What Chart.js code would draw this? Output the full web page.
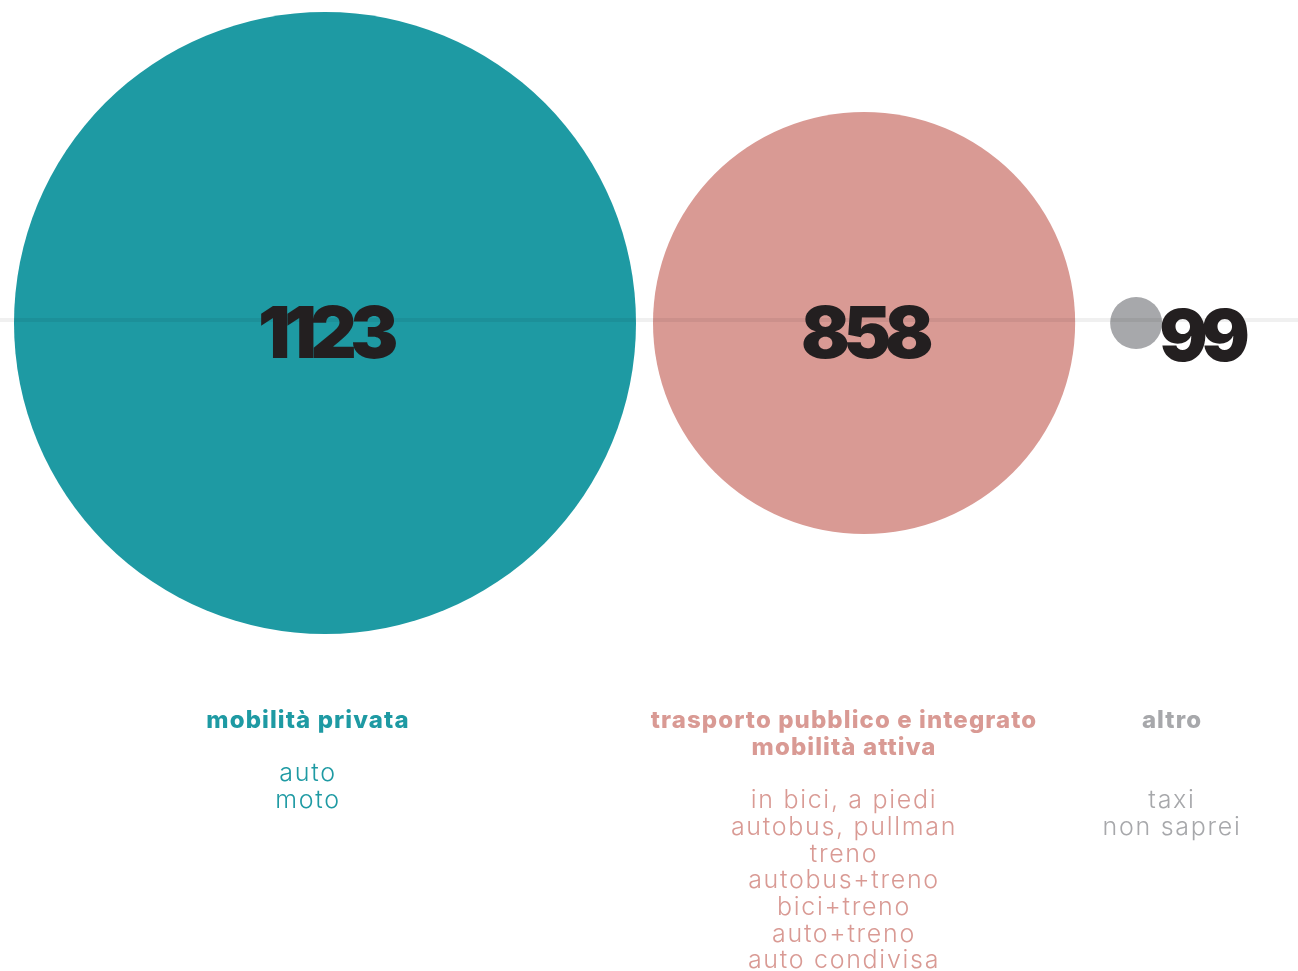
<!DOCTYPE html>
<html>
<head>
<meta charset="utf-8">
<script src="https://cdn.jsdelivr.net/npm/chart.js@4/dist/chart.umd.min.js"></script>
<style>
  html, body { margin: 0; padding: 0; background: #fff; }
  #wrap { width: 1298px; height: 971px; position: relative; }
</style>
</head>
<body>
<div id="wrap"><canvas id="bubbles" width="1298" height="971"></canvas></div>
<script>
// dati
var categories = ['mobilità privata', 'trasporto pubblico e integrato\nmobilità attiva', 'altro'];
var totals = [1123, 858, 99];
var modes = [
  ['auto', 'moto'],
  ['in bici, a piedi', 'autobus, pullman', 'treno', 'autobus+treno', 'bici+treno', 'auto+treno', 'auto condivisa'],
  ['taxi', 'non saprei']
];

// stile
var colors = ['#1e9aa3', '#d99a94', '#a7a8ab'];
var textCenters = [308, 844, 1172];   // colonne delle etichette
var itemRow = [2, 3, 3];              // riga dove iniziano le voci
var gaps = [17, 35];
var maxR = 311, minR = 26;

var radiusFor = function(v) {
  var maxV = Math.max.apply(null, totals);
  return Math.max(minR, maxR * Math.pow(v / maxV, 1.44));
};

// posizione dei cerchi affiancati
var points = [];
var cursor = 14;
totals.forEach(function(v, i) {
  var r = radiusFor(v);
  points.push({ x: cursor + r, y: 0, r: r });
  cursor += 2 * r + (gaps[i] || 0);
});

// linea orizzontale + numeri + etichette
var labelsPlugin = {
  id: 'labels',
  afterDatasetsDraw: function(chart) {
    var ctx = chart.ctx,
        meta = chart.getDatasetMeta(0),
        yZero = chart.scales.y.getPixelForValue(0);
    ctx.save();
    ctx.fillStyle = 'rgba(0,0,0,0.06)';
    ctx.fillRect(0, yZero - 5, chart.width, 4);

    ctx.fillStyle = '#231f20';
    ctx.font = '900 72px Inter';
    ctx.letterSpacing = '-6.5px';
    ctx.textBaseline = 'alphabetic';
    meta.data.forEach(function(el, i) {
      var txt = String(totals[i]);
      if (i === totals.length - 1) {
        ctx.textAlign = 'left';
        ctx.fillText(txt, el.x + radiusFor(totals[i]) - 3, yZero + 38);
      } else {
        ctx.textAlign = 'center';
        ctx.fillText(txt, el.x, yZero + 35);
      }
    });

    ctx.textAlign = 'center';
    var lh = 26.7, top = 728;
    categories.forEach(function(cat, i) {
      ctx.fillStyle = colors[i];
      ctx.font = '800 24px Inter';
      ctx.letterSpacing = '1.1px';
      cat.split('\n').forEach(function(line, j) {
        ctx.fillText(line, textCenters[i], top + j * lh);
      });
      ctx.font = '300 25px Inter';
      ctx.letterSpacing = '1.7px';
      modes[i].forEach(function(m, j) {
        ctx.fillText(m, textCenters[i], top + (itemRow[i] + j) * lh);
      });
    });
    ctx.restore();
  }
};

var chart = new Chart(document.getElementById('bubbles').getContext('2d'), {
  type: 'bubble',
  data: {
    labels: categories,
    datasets: [{
      data: points,
      backgroundColor: colors,
      borderWidth: 0,
      hoverBorderWidth: 0,
      clip: false
    }]
  },
  options: {
    responsive: false,
    animation: false,
    events: [],
    layout: { padding: 0, autoPadding: false },
    plugins: { legend: { display: false }, tooltip: { enabled: false } },
    scales: {
      x: { type: 'linear', display: false, min: 0, max: 1298 },
      y: { type: 'linear', display: false, min: -648, max: 323 }
    }
  },
  plugins: [labelsPlugin]
});
</script>
</body>
</html>
